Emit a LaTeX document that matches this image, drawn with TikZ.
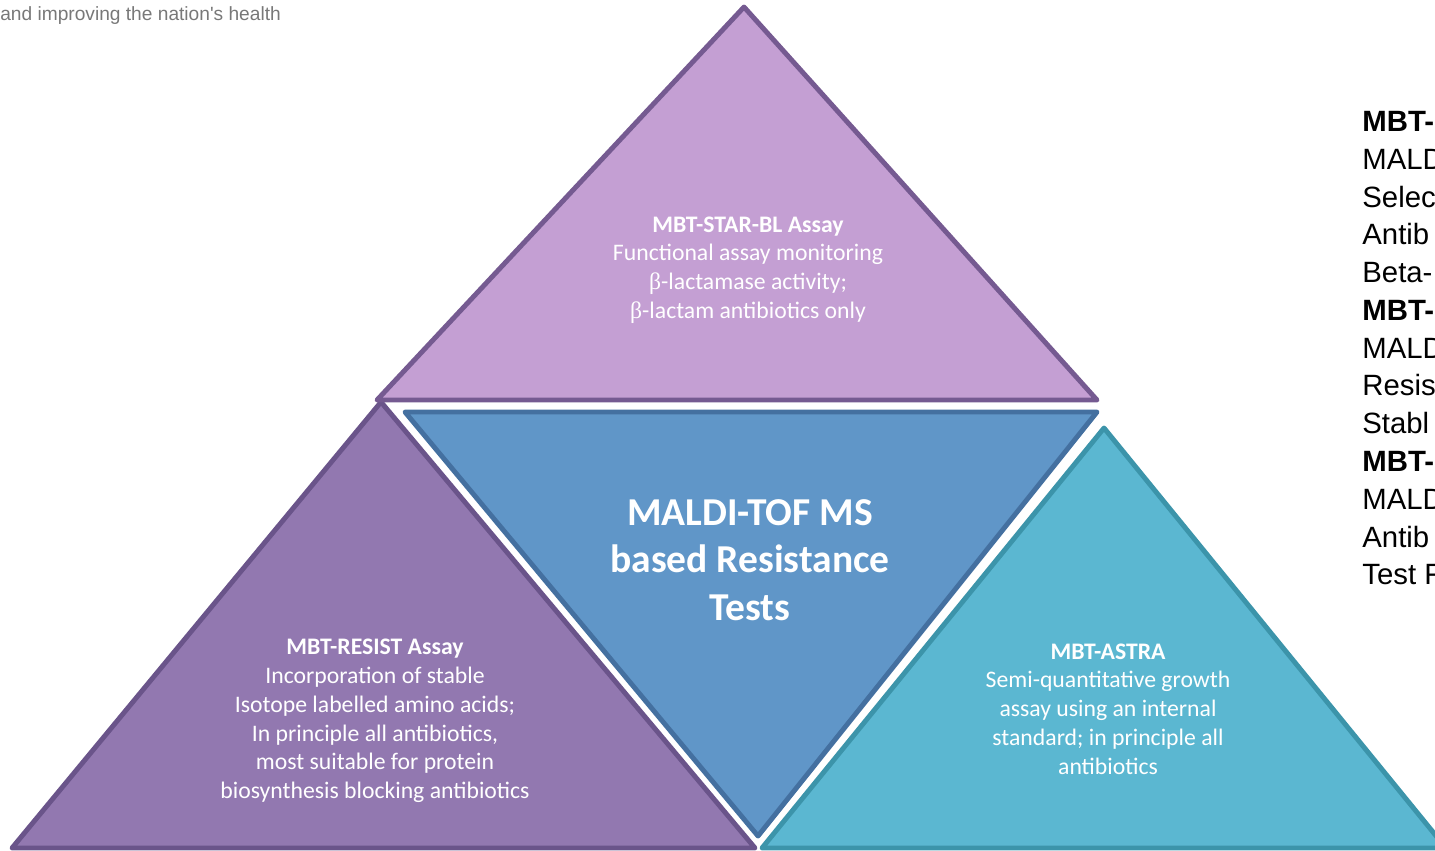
\documentclass[tikz,border=0pt]{standalone}
\usepackage{fontspec}
\setmainfont{Carlito}
\newfontfamily\arialfont{Liberation Sans}
\newfontfamily\symbfont{Liberation Serif}
\usetikzlibrary{calc}
\definecolor{starfill}{RGB}{196,159,211}
\definecolor{stardraw}{RGB}{117,90,145}
\definecolor{resistfill}{RGB}{146,120,176}
\definecolor{resistdraw}{RGB}{106,84,138}
\definecolor{maldifill}{RGB}{96,150,200}
\definecolor{maldidraw}{RGB}{68,112,160}
\definecolor{astrafill}{RGB}{91,183,209}
\definecolor{astradraw}{RGB}{60,148,170}
\definecolor{headgray}{RGB}{120,120,120}
\newcommand{\bet}{{\symbfont β}}
\tikzset{
    tri/.style={line width=2.8pt, line join=round},
    gap/.style={white, line width=6.5pt, line join=round},
    assay/.style={text=white, align=center, inner sep=0pt,
        font=\fontsize{13.5}{16.4}\selectfont},
    hub/.style={text=white, align=center, inner sep=0pt,
        font=\fontsize{22.5}{27.2}\selectfont\bfseries},
    sidetext/.style={align=left, inner sep=0pt, anchor=north west,
        font=\arialfont\fontsize{16.7}{21.5}\selectfont},
}

\begin{document}
\begin{tikzpicture}[x=0.02cm, y=-0.02cm]
    \useasboundingbox (0,0) rectangle (1435,850);

    % corners of the four triangles
    \coordinate (star-t) at (744,7);
    \coordinate (star-l) at (377,400);
    \coordinate (star-r) at (1097,400);
    \coordinate (resist-t) at (381,402);
    \coordinate (resist-l) at (12,848);
    \coordinate (resist-r) at (755,848);
    \coordinate (astra-t) at (1104,428);
    \coordinate (astra-l) at (762,848);
    \coordinate (astra-r) at (1446,848);
    \coordinate (maldi-l) at (405,412);
    \coordinate (maldi-r) at (1097,412);
    \coordinate (maldi-b) at (758,836);

    \filldraw[tri, fill=resistfill, draw=resistdraw] (resist-t) -- (resist-l) -- (resist-r) -- cycle;
    \filldraw[tri, fill=astrafill, draw=astradraw] (astra-t) -- (astra-l) -- (astra-r) -- cycle;
    \filldraw[tri, fill=starfill, draw=stardraw] (star-t) -- (star-l) -- (star-r) -- cycle;
    \draw[gap] (maldi-l) -- (maldi-r) -- (maldi-b) -- cycle;
    \filldraw[tri, fill=maldifill, draw=maldidraw] (maldi-l) -- (maldi-r) -- (maldi-b) -- cycle;

    \node[assay] (star) at (748,270) {\textbf{MBT-STAR-BL Assay}\\
        Functional assay monitoring\\ \bet-lactamase activity;\\ \bet-lactam antibiotics only};
    \node[assay] (resist) at (375,721) {\textbf{MBT-RESIST Assay}\\
        Incorporation of stable\\ Isotope labelled amino acids;\\
        In principle all antibiotics,\\ most suitable for protein\\
        biosynthesis blocking antibiotics};
    \node[assay] (astra) at (1108,709) {\textbf{MBT-ASTRA}\\
        Semi-quantitative growth\\ assay using an internal\\
        standard; in principle all\\ antibiotics};
    \node[hub] (maldi) at (750,560) {MALDI-TOF MS\\ based Resistance\\ Tests};

    \node[text=headgray, anchor=base west, inner sep=0pt,
        font=\arialfont\fontsize{10.9}{13}\selectfont] (slogan) at (0,20)
        {and improving the nation's health};
    \node[sidetext] (side) at (1362,111) {\textbf{MBT-}\\ MALD\\ Selec\\ Antib\\ Beta-\\
        \textbf{MBT-}\\ MALD\\ Resis\\ Stabl\\ \textbf{MBT-}\\ MALD\\ Antib\\ Test F};
\end{tikzpicture}
\end{document}
